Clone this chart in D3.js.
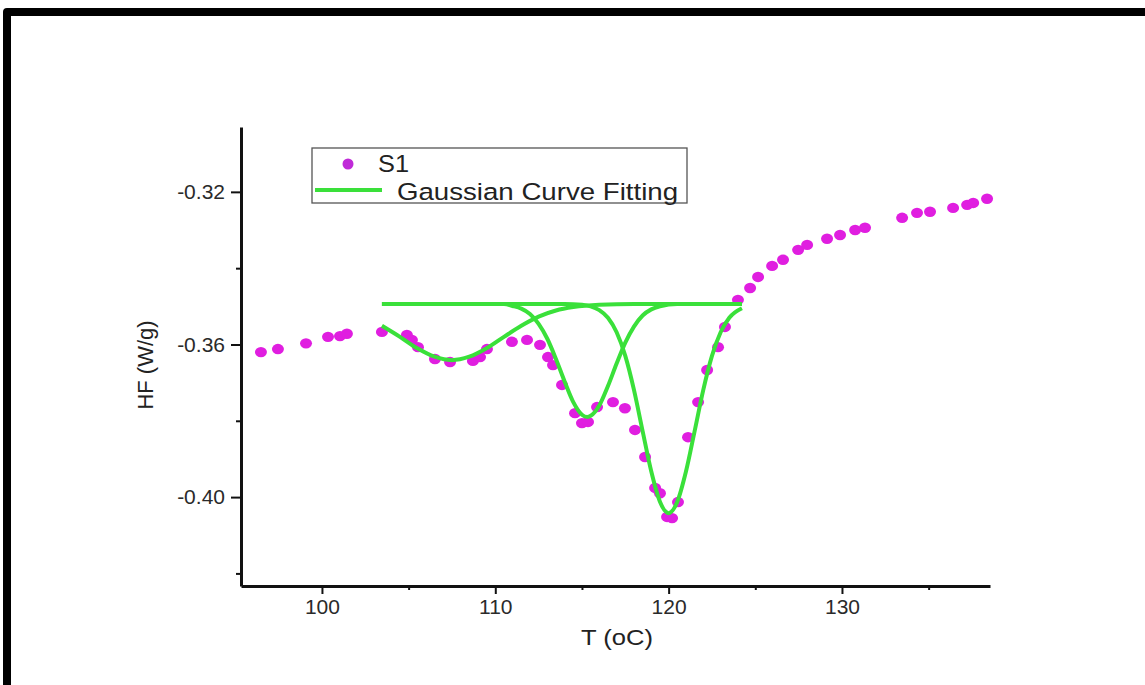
<!DOCTYPE html>
<html>
<head>
<meta charset="utf-8">
<script src="https://cdn.jsdelivr.net/npm/d3@7"></script>
<style>
  html, body { margin: 0; padding: 0; background: #ffffff; }
  svg { display: block; font-family: "Liberation Sans", Arial, sans-serif; }
</style>
</head>
<body>
<svg id="chart" width="1145" height="685"></svg>
<script>
// DSC heat-flow measurements for sample S1: temperature (°C) and heat flow (W/g)
const s1Temp = [96.48, 97.46, 99.08, 100.35, 101.04, 101.44, 103.46, 104.90, 105.19, 105.54,
  106.52, 107.39, 108.71, 109.12, 109.52, 110.96, 111.83, 112.58, 113.04, 113.33,
  113.85, 114.60, 115.00, 115.35, 115.87, 116.79, 117.48, 118.06, 118.64, 119.22,
  119.50, 119.91, 120.20, 120.54, 121.12, 121.70, 122.22, 122.85, 123.25, 124.00,
  124.70, 125.16, 125.97, 126.60, 127.47, 127.99, 129.14, 129.89, 130.76, 131.33,
  133.47, 134.33, 135.08, 136.41, 137.22, 137.57, 138.37];
const s1HF = [-0.3620, -0.3612, -0.3597, -0.3580, -0.3578, -0.3572, -0.3567, -0.3575, -0.3588, -0.3607,
  -0.3638, -0.3646, -0.3643, -0.3633, -0.3612, -0.3593, -0.3588, -0.3601, -0.3633, -0.3654,
  -0.3706, -0.3780, -0.3806, -0.3803, -0.3764, -0.3751, -0.3767, -0.3824, -0.3895, -0.3976,
  -0.3990, -0.4052, -0.4055, -0.4013, -0.3843, -0.3751, -0.3667, -0.3607, -0.3554, -0.3483,
  -0.3452, -0.3423, -0.3394, -0.3378, -0.3352, -0.3339, -0.3323, -0.3313, -0.3300, -0.3294,
  -0.3268, -0.3255, -0.3252, -0.3242, -0.3234, -0.3229, -0.3218];

// Fitted Gaussian components, sampled over the fit window
const peak1Temp = [103.46, 104.5, 105.5, 106.5, 107.5, 108.5, 109.5, 110.5, 111.5, 112.5, 113.5, 114.5, 116, 118, 124.23];
const peak1HF = [-0.3551, -0.3580, -0.3610, -0.3632, -0.3641, -0.3632, -0.3610, -0.3580, -0.3551, -0.3527, -0.3511, -0.3502, -0.3496, -0.3494, -0.3494];

const peak2Temp = [103.46, 110.5, 111, 111.5, 112, 112.5, 113, 113.5, 114, 114.5, 115, 115.3, 115.5, 116, 116.5, 117, 117.5, 118, 118.5, 119, 119.5, 120.5, 124.23];
const peak2HF = [-0.3494, -0.3494, -0.3499, -0.3506, -0.3520, -0.3546, -0.3585, -0.3638, -0.3697, -0.3751, -0.3784, -0.3790, -0.3787, -0.3760, -0.3709, -0.3650, -0.3595, -0.3553, -0.3524, -0.3508, -0.3500, -0.3494, -0.3494];

const peak3Temp = [103.46, 114, 115, 115.5, 116, 116.5, 117, 117.5, 118, 118.5, 119, 119.5, 120, 120.5, 121, 121.5, 122, 122.5, 123, 123.5, 124.23];
const peak3HF = [-0.3494, -0.3494, -0.3496, -0.3500, -0.3510, -0.3530, -0.3568, -0.3630, -0.3719, -0.3827, -0.3933, -0.4012, -0.4042, -0.4012, -0.3933, -0.3827, -0.3719, -0.3630, -0.3568, -0.3530, -0.3505];

// Axis ticks
const xMajorTicks = [100, 110, 120, 130];
const xMinorTicks = [105, 115, 125, 135];
const yMajorTicks = [-0.32, -0.36, -0.40];
const yMajorLabels = ["-0.32", "-0.36", "-0.40"];
const yMinorTicks = [-0.34, -0.38, -0.42];

const legendLabels = ["S1", "Gaussian Curve Fitting"];
const xTitle = "T (oC)";
const yTitle = "HF (W/g)";

const magenta = "#e01ee0";
const green = "#3ae03a";

const svg = d3.select("#chart");
svg.append("rect").attr("width", 1145).attr("height", 685).attr("fill", "#ffffff");

// heavy frame along the top and left edges
svg.append("path")
  .attr("d", "M7,685 L7,12 L1145,12")
  .attr("fill", "none")
  .attr("stroke", "#000")
  .attr("stroke-width", 8)
  .attr("stroke-linejoin", "round");

const x = d3.scaleLinear().domain([95.33, 138.54]).range([241, 990]);
const y = d3.scaleLinear().domain([-0.4233, -0.303]).range([586, 127]);

// x axis: minor then major ticks
svg.append("g").attr("transform", `translate(0,${y.range()[0]})`)
  .call(d3.axisBottom(x).tickValues(xMinorTicks).tickSize(4).tickSizeOuter(0).tickFormat(""))
  .call(g => g.select(".domain").remove())
  .call(g => g.selectAll("line").attr("stroke", "#111").attr("stroke-width", 2));
const gx = svg.append("g").attr("transform", `translate(0,${y.range()[0]})`)
  .call(d3.axisBottom(x).tickValues(xMajorTicks).tickSize(8).tickSizeOuter(0).tickPadding(5));
gx.select(".domain").attr("stroke", "#111").attr("stroke-width", 3);
gx.selectAll("line").attr("stroke", "#111").attr("stroke-width", 2);
gx.selectAll("text").attr("font-size", 21).attr("fill", "#2a2a2a").attr("font-family", "Liberation Sans, Arial, sans-serif");

// y axis: minor then major ticks
svg.append("g").attr("transform", `translate(${x.range()[0]},0)`)
  .call(d3.axisLeft(y).tickValues(yMinorTicks).tickSize(5).tickSizeOuter(0).tickFormat(""))
  .call(g => g.select(".domain").remove())
  .call(g => g.selectAll("line").attr("stroke", "#111").attr("stroke-width", 2));
const gy = svg.append("g").attr("transform", `translate(${x.range()[0]},0)`)
  .call(d3.axisLeft(y).tickValues(yMajorTicks).tickSize(10).tickSizeOuter(0).tickPadding(6)
    .tickFormat((d, i) => yMajorLabels[i]));
gy.select(".domain").attr("stroke", "#111").attr("stroke-width", 3);
gy.selectAll("line").attr("stroke", "#111").attr("stroke-width", 2);
gy.selectAll("text").attr("font-size", 21).attr("fill", "#2a2a2a").attr("font-family", "Liberation Sans, Arial, sans-serif");

// axis titles
svg.append("text").attr("x", 617).attr("y", 645).attr("text-anchor", "middle")
  .attr("font-size", 22).attr("fill", "#222").attr("textLength", 72).attr("lengthAdjust", "spacingAndGlyphs")
  .text(xTitle);
svg.append("text").attr("transform", "translate(153,365) rotate(-90)").attr("text-anchor", "middle")
  .attr("font-size", 22).attr("fill", "#222")
  .text(yTitle);

// data points
const pts = s1Temp.map((t, i) => [t, s1HF[i]]);
svg.append("g").selectAll("ellipse").data(pts).join("ellipse")
  .attr("cx", d => x(d[0])).attr("cy", d => y(d[1]))
  .attr("rx", 6).attr("ry", 5.2)
  .attr("fill", magenta);

// Gaussian components
const line = d3.line().x(d => x(d[0])).y(d => y(d[1])).curve(d3.curveMonotoneX);
[[peak1Temp, peak1HF], [peak2Temp, peak2HF], [peak3Temp, peak3HF]].forEach(([ts, hs]) => {
  svg.append("path")
    .datum(ts.map((t, i) => [t, hs[i]]))
    .attr("d", line)
    .attr("fill", "none")
    .attr("stroke", green)
    .attr("stroke-width", 4)
    .attr("stroke-linejoin", "round");
});

// legend
const lg = svg.append("g");
lg.append("rect").attr("x", 312).attr("y", 148).attr("width", 375).attr("height", 55)
  .attr("fill", "#fff").attr("stroke", "#555").attr("stroke-width", 1.3);
lg.append("circle").attr("cx", 348).attr("cy", 164).attr("r", 5.5).attr("fill", "#c02ad8");
lg.append("text").attr("x", 378).attr("y", 172).attr("font-size", 23).attr("fill", "#222")
  .attr("textLength", 31).attr("lengthAdjust", "spacingAndGlyphs").text(legendLabels[0]);
lg.append("line").attr("x1", 315).attr("x2", 382).attr("y1", 190).attr("y2", 190)
  .attr("stroke", green).attr("stroke-width", 4);
lg.append("text").attr("x", 397).attr("y", 200).attr("font-size", 24.5).attr("fill", "#222")
  .attr("textLength", 281).attr("lengthAdjust", "spacingAndGlyphs").text(legendLabels[1]);
</script>
</body>
</html>
